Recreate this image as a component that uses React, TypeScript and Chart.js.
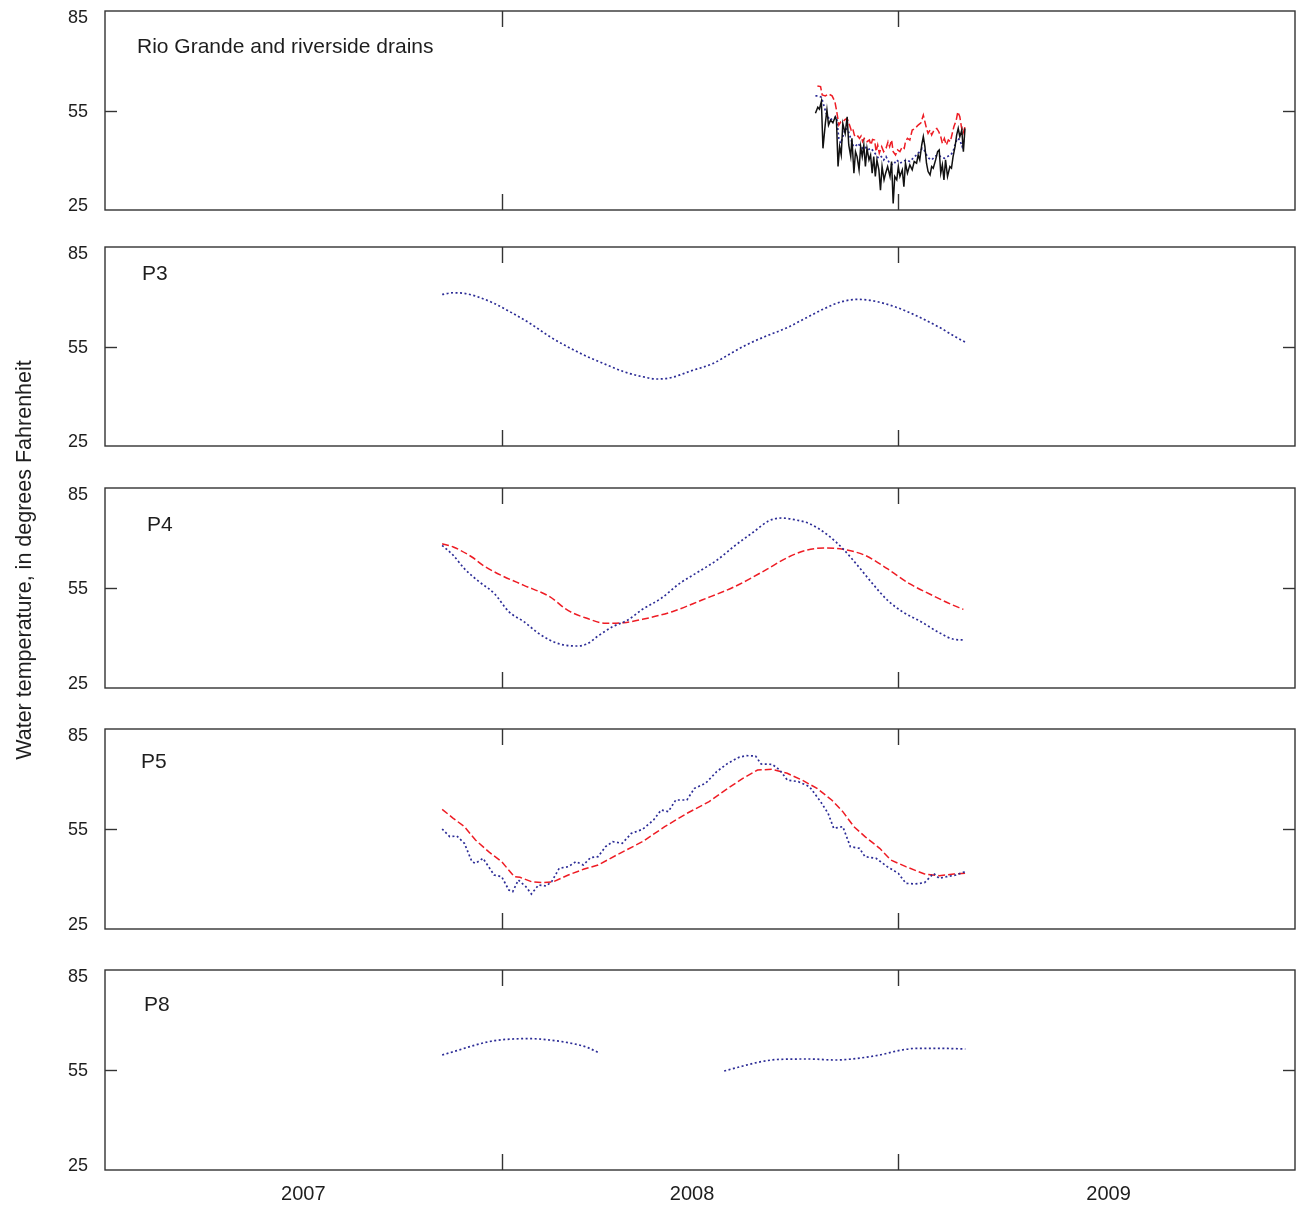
import React, { useEffect, useRef } from "react";
import { Chart, registerables } from "chart.js";

Chart.register(...registerables);

// ---------- axis values ----------
const xMin = 2007;
const xMax = 2010;
const xTickYears = [2008, 2009];
const xLabelYears = ["2007", "2008", "2009"];
const xLabelPos = [2007.5, 2008.48, 2009.53];
const yMin = 25;
const yMax = 85;
const yTickValues = [25, 55, 85];
const yInnerTicks = [55];
// the tick labels sit slightly inside the frame: a label-only axis with a wider range
const yLabelAxisMin = 23.7;
const yLabelAxisMax = 87.2;
const yTitle = "Water temperature, in degrees Fahrenheit";

// ---------- panel labels ----------
const panelLabels = ["Rio Grande and riverside drains", "P3", "P4", "P5", "P8"];

// ---------- data: [decimal year, °F] ----------
const rioBlack = [
  [2008.791, 54.2], [2008.797, 56.0], [2008.801, 55.4], [2008.806, 57.7], [2008.810, 43.6],
  [2008.816, 51.1], [2008.820, 55.2], [2008.824, 50.6], [2008.829, 52.1], [2008.835, 51.3],
  [2008.841, 53.1], [2008.844, 52.1], [2008.848, 38.1], [2008.852, 44.1], [2008.856, 41.6],
  [2008.860, 51.1], [2008.866, 48.1], [2008.871, 53.1], [2008.875, 44.6], [2008.880, 41.1],
  [2008.883, 46.6], [2008.888, 36.1], [2008.892, 42.6], [2008.896, 41.1], [2008.901, 37.1],
  [2008.905, 44.1], [2008.909, 41.1], [2008.913, 44.6], [2008.917, 38.1], [2008.921, 43.6],
  [2008.926, 40.1], [2008.930, 41.6], [2008.934, 36.1], [2008.938, 41.1], [2008.942, 35.1],
  [2008.946, 40.1], [2008.951, 37.1], [2008.955, 31.0], [2008.959, 38.1], [2008.964, 34.1],
  [2008.968, 36.1], [2008.973, 38.1], [2008.979, 35.1], [2008.983, 39.6], [2008.987, 27.0],
  [2008.991, 35.1], [2008.996, 34.1], [2009.000, 38.1], [2009.004, 35.1], [2009.010, 37.1],
  [2009.014, 32.0], [2009.018, 39.1], [2009.023, 36.1], [2009.029, 38.6], [2009.035, 37.1],
  [2009.040, 39.6], [2009.046, 39.1], [2009.050, 41.6], [2009.054, 40.1], [2009.059, 44.6],
  [2009.063, 47.1], [2009.067, 44.1], [2009.071, 39.1], [2009.075, 36.6], [2009.080, 35.6],
  [2009.084, 38.1], [2009.088, 37.6], [2009.094, 40.1], [2009.099, 42.6], [2009.103, 43.1],
  [2009.107, 36.1], [2009.111, 38.6], [2009.115, 34.1], [2009.119, 40.1], [2009.124, 35.1],
  [2009.130, 38.1], [2009.134, 37.6], [2009.138, 41.1], [2009.143, 44.1], [2009.147, 47.6],
  [2009.151, 49.6], [2009.155, 47.1], [2009.160, 49.1], [2009.164, 42.6], [2009.168, 49.6],
];

const rioRed = [
  [2008.796, 62.4], [2008.804, 62.2], [2008.808, 59.7], [2008.816, 59.4], [2008.824, 60.0],
  [2008.833, 59.4], [2008.840, 57.7], [2008.844, 55.2], [2008.850, 50.6], [2008.855, 51.6],
  [2008.860, 51.6], [2008.866, 52.3], [2008.871, 52.6], [2008.877, 50.6], [2008.881, 49.1],
  [2008.885, 49.6], [2008.889, 47.6], [2008.893, 46.9], [2008.898, 47.3], [2008.902, 46.6],
  [2008.906, 47.3], [2008.910, 45.6], [2008.914, 46.6], [2008.921, 45.6], [2008.927, 46.1],
  [2008.931, 44.6], [2008.935, 46.3], [2008.940, 46.1], [2008.944, 42.6], [2008.948, 44.6],
  [2008.952, 42.1], [2008.958, 44.1], [2008.963, 42.6], [2008.969, 43.6], [2008.974, 45.6],
  [2008.978, 44.1], [2008.983, 46.1], [2008.987, 42.6], [2008.993, 41.6], [2008.998, 43.1],
  [2009.004, 42.6], [2009.010, 44.1], [2009.015, 43.6], [2009.018, 45.6], [2009.023, 46.6],
  [2009.029, 46.1], [2009.035, 49.1], [2009.042, 49.6], [2009.050, 50.6], [2009.057, 51.3],
  [2009.063, 53.6], [2009.067, 51.6], [2009.071, 49.6], [2009.075, 48.1], [2009.080, 49.1],
  [2009.084, 47.6], [2009.090, 49.1], [2009.097, 49.6], [2009.102, 48.6], [2009.107, 47.1],
  [2009.111, 45.1], [2009.116, 46.6], [2009.121, 44.6], [2009.126, 46.1], [2009.131, 45.6],
  [2009.135, 47.6], [2009.140, 50.1], [2009.146, 52.1], [2009.150, 54.6], [2009.155, 53.1],
  [2009.159, 50.1], [2009.163, 48.1], [2009.168, 50.1],
];

const rioBlue = [
  [2008.791, 59.4], [2008.799, 59.4], [2008.806, 59.0], [2008.818, 54.2], [2008.827, 52.1],
  [2008.835, 52.6], [2008.844, 53.1], [2008.850, 46.6], [2008.855, 45.1], [2008.860, 47.1],
  [2008.866, 49.6], [2008.873, 49.1], [2008.880, 46.6], [2008.885, 44.6], [2008.891, 44.1],
  [2008.898, 45.1], [2008.905, 44.1], [2008.910, 43.6], [2008.916, 44.1], [2008.923, 43.1],
  [2008.931, 43.6], [2008.938, 42.6], [2008.944, 41.6], [2008.950, 40.6], [2008.957, 41.1],
  [2008.963, 40.1], [2008.969, 41.1], [2008.978, 39.1], [2008.987, 38.6], [2008.996, 40.1],
  [2009.004, 39.1], [2009.012, 39.6], [2009.020, 40.1], [2009.029, 39.6], [2009.037, 40.6],
  [2009.046, 41.6], [2009.054, 42.6], [2009.060, 43.6], [2009.065, 43.1], [2009.071, 41.6],
  [2009.077, 40.6], [2009.084, 40.1], [2009.092, 41.1], [2009.099, 41.6], [2009.107, 41.1],
  [2009.116, 40.6], [2009.124, 41.1], [2009.132, 41.6], [2009.138, 42.6], [2009.144, 45.1],
  [2009.149, 46.6], [2009.155, 46.1], [2009.161, 44.1], [2009.166, 46.6],
];

const p3Blue = [
  [2007.850, 70.7], [2007.878, 71.2], [2007.906, 71.0], [2007.934, 70.2], [2007.981, 68.0],
  [2008.028, 65.0], [2008.075, 61.7], [2008.121, 58.0], [2008.168, 54.8], [2008.215, 52.0],
  [2008.262, 49.6], [2008.308, 47.4], [2008.355, 45.9], [2008.392, 45.2], [2008.430, 45.7],
  [2008.476, 47.6], [2008.533, 49.9], [2008.579, 53.0], [2008.617, 55.5], [2008.664, 58.0],
  [2008.720, 60.7], [2008.767, 63.6], [2008.813, 66.4], [2008.860, 68.6], [2008.897, 69.2],
  [2008.935, 68.8], [2008.991, 67.0], [2009.047, 64.2], [2009.103, 60.8], [2009.140, 58.2],
  [2009.173, 56.0],
];

const p4Blue = [
  [2007.850, 67.8], [2007.878, 64.8], [2007.906, 60.8], [2007.944, 56.8], [2007.981, 53.4],
  [2008.018, 47.9], [2008.056, 44.9], [2008.093, 41.4], [2008.121, 39.4], [2008.149, 38.1],
  [2008.187, 37.6], [2008.215, 38.2], [2008.243, 40.6], [2008.280, 43.4], [2008.318, 45.4],
  [2008.355, 48.6], [2008.402, 51.9], [2008.448, 56.3], [2008.495, 59.8], [2008.542, 63.3],
  [2008.589, 67.8], [2008.635, 71.8], [2008.673, 75.1], [2008.705, 76.0], [2008.738, 75.5],
  [2008.776, 74.3], [2008.823, 70.8], [2008.860, 66.8], [2008.897, 61.8], [2008.935, 56.3],
  [2008.972, 51.4], [2009.010, 47.9], [2009.057, 44.9], [2009.103, 41.6], [2009.140, 39.6],
  [2009.164, 39.4],
];

const p4Red = [
  [2007.850, 68.3], [2007.878, 67.3], [2007.925, 64.3], [2007.953, 61.8], [2007.999, 58.8],
  [2008.056, 55.8], [2008.121, 52.4], [2008.168, 48.2], [2008.215, 45.9], [2008.262, 44.4],
  [2008.308, 44.6], [2008.355, 45.6], [2008.430, 47.9], [2008.505, 51.4], [2008.589, 55.5],
  [2008.664, 60.3], [2008.720, 64.1], [2008.767, 66.3], [2008.813, 67.0], [2008.860, 66.6],
  [2008.916, 64.8], [2008.972, 60.8], [2009.028, 56.3], [2009.084, 52.9], [2009.131, 50.2],
  [2009.164, 48.6],
];

const p5Blue = [
  [2007.850, 55.0], [2007.869, 52.7], [2007.887, 52.9], [2007.906, 50.7], [2007.925, 45.2],
  [2007.934, 44.7], [2007.953, 46.2], [2007.981, 41.2], [2008.000, 40.7], [2008.018, 36.7],
  [2008.028, 36.2], [2008.042, 39.7], [2008.061, 37.7], [2008.075, 35.5], [2008.093, 38.2],
  [2008.112, 37.9], [2008.126, 39.2], [2008.145, 43.2], [2008.168, 43.7], [2008.187, 45.2],
  [2008.206, 44.2], [2008.224, 46.4], [2008.243, 46.7], [2008.262, 49.7], [2008.280, 51.2],
  [2008.304, 50.7], [2008.327, 53.7], [2008.355, 54.9], [2008.383, 57.7], [2008.402, 60.7],
  [2008.420, 60.2], [2008.439, 63.7], [2008.467, 63.7], [2008.486, 67.2], [2008.514, 68.7],
  [2008.542, 72.2], [2008.570, 74.7], [2008.598, 76.5], [2008.617, 77.0], [2008.640, 76.9],
  [2008.654, 74.5], [2008.682, 74.4], [2008.701, 72.7], [2008.720, 69.7], [2008.748, 69.2],
  [2008.776, 67.7], [2008.804, 63.2], [2008.823, 59.7], [2008.837, 55.2], [2008.860, 55.7],
  [2008.879, 49.7], [2008.902, 49.2], [2008.916, 46.7], [2008.944, 46.2], [2008.972, 43.7],
  [2009.000, 41.7], [2009.019, 38.7], [2009.042, 38.5], [2009.066, 38.9], [2009.089, 41.7],
  [2009.103, 40.2], [2009.122, 40.7], [2009.145, 41.2], [2009.169, 42.2],
];

const p5Red = [
  [2007.850, 60.9], [2007.878, 58.2], [2007.906, 55.7], [2007.934, 51.7], [2007.967, 48.2],
  [2008.000, 45.2], [2008.032, 40.7], [2008.046, 40.5], [2008.075, 39.2], [2008.103, 38.9],
  [2008.131, 39.2], [2008.168, 41.2], [2008.206, 42.9], [2008.243, 44.2], [2008.290, 47.2],
  [2008.355, 51.2], [2008.411, 55.7], [2008.467, 59.7], [2008.523, 63.2], [2008.570, 67.2],
  [2008.608, 70.2], [2008.645, 72.7], [2008.682, 72.9], [2008.720, 71.7], [2008.757, 69.7],
  [2008.795, 67.2], [2008.832, 63.7], [2008.860, 60.2], [2008.888, 55.7], [2008.916, 52.7],
  [2008.953, 49.2], [2008.981, 45.7], [2009.019, 43.7], [2009.066, 41.5], [2009.103, 41.0],
  [2009.140, 41.5], [2009.169, 41.7],
];

const p8BlueA = [
  [2007.850, 59.5], [2007.887, 60.8], [2007.934, 62.5], [2007.981, 63.8], [2008.028, 64.3],
  [2008.075, 64.4], [2008.121, 64.0], [2008.168, 63.2], [2008.215, 61.8], [2008.248, 60.0],
];

const p8BlueB = [
  [2008.561, 54.7], [2008.608, 56.2], [2008.654, 57.5], [2008.701, 58.2], [2008.776, 58.3],
  [2008.841, 58.0], [2008.897, 58.5], [2008.953, 59.5], [2009.000, 60.8], [2009.047, 61.5],
  [2009.103, 61.5], [2009.169, 61.3],
];

// ---------- styles ----------
const FONT = "'Liberation Sans', Arial, sans-serif";
const TEXT = "#1e1e1e";
const FRAME = "#333";
const BLACK = "#111111";
const RED = "#ee1c24";
const BLUE = "#2c2c96";

type Pair = number[];
const toPts = (a: Pair[]) => a.map(([x, y]) => ({ x, y }));

const solid = (d: Pair[]) => ({
  data: toPts(d), borderColor: BLACK, borderWidth: 1.5, pointRadius: 0, tension: 0,
});
const dashed = (d: Pair[], smooth: boolean) => ({
  data: toPts(d), borderColor: RED, borderWidth: 1.5, borderDash: [7, 3], pointRadius: 0,
  tension: 0, cubicInterpolationMode: smooth ? "monotone" : "default",
});
const dotted = (d: Pair[], smooth: boolean) => ({
  data: toPts(d), borderColor: BLUE, borderWidth: 1.7, borderDash: [2, 2.5], pointRadius: 0,
  tension: 0, cubicInterpolationMode: smooth ? "monotone" : "default",
});

const panels = [
  { top: 11, bottom: 210, dx: 32, dy: 36, datasets: () => [solid(rioBlack), dotted(rioBlue, false), dashed(rioRed, false)] },
  { top: 247, bottom: 446, dx: 37, dy: 27, datasets: () => [dotted(p3Blue, true)] },
  { top: 488, bottom: 688, dx: 42, dy: 37, datasets: () => [dotted(p4Blue, true), dashed(p4Red, true)] },
  { top: 729, bottom: 929, dx: 36, dy: 33, datasets: () => [dotted(p5Blue, false), dashed(p5Red, false)] },
  { top: 970, bottom: 1170, dx: 39, dy: 35, datasets: () => [dotted(p8BlueA, true), dotted(p8BlueB, true)] },
];

const PAD = 20;
const X_AXIS_H = 45;

const framePlugin = {
  id: "frame",
  afterDatasetsDraw(chart: any, _args: any, opts: any) {
    const { ctx, chartArea: a, scales } = chart;
    ctx.save();
    ctx.strokeStyle = FRAME;
    ctx.lineWidth = 1.4;
    ctx.setLineDash([]);
    ctx.strokeRect(a.left, a.top, a.right - a.left, a.bottom - a.top);
    const seg = (x1: number, y1: number, x2: number, y2: number) => {
      ctx.beginPath(); ctx.moveTo(x1, y1); ctx.lineTo(x2, y2); ctx.stroke();
    };
    for (const v of xTickYears) {
      const px = Math.round(scales.x.getPixelForValue(v)) + 0.5;
      seg(px, a.top, px, a.top + 16);
      seg(px, a.bottom, px, a.bottom - 16);
    }
    for (const v of yInnerTicks) {
      const py = Math.round(scales.y.getPixelForValue(v)) + 0.5;
      seg(a.left, py, a.left + 12, py);
      seg(a.right, py, a.right - 12, py);
    }
    ctx.fillStyle = TEXT;
    ctx.font = `21px ${FONT}`;
    ctx.textBaseline = "middle";
    ctx.textAlign = "left";
    ctx.fillText(opts.label, a.left + opts.dx, a.top + opts.dy);
    ctx.restore();
  },
};

const zeroPad = (s: any) => {
  s.paddingLeft = 0; s.paddingRight = 0; s.paddingTop = 0; s.paddingBottom = 0;
};

function Panel({ idx }: { idx: number }) {
  const ref = useRef<HTMLCanvasElement | null>(null);
  const p = panels[idx];
  const isLast = idx === panels.length - 1;
  const h = p.bottom - p.top;
  const canvasH = PAD + h + (isLast ? X_AXIS_H : PAD);

  useEffect(() => {
    if (!ref.current) return;
    const chart = new Chart(ref.current, {
      type: "line",
      data: { datasets: p.datasets() as any },
      plugins: [framePlugin as any],
      options: {
        animation: false,
        responsive: false,
        maintainAspectRatio: false,
        layout: { padding: { top: PAD, bottom: isLast ? 0 : PAD, left: 0, right: 1 } },
        plugins: {
          legend: { display: false },
          tooltip: { enabled: false },
          frame: { label: panelLabels[idx], dx: p.dx, dy: p.dy },
        } as any,
        scales: {
          x: {
            type: "linear",
            min: xMin,
            max: xMax,
            display: isLast,
            grid: { display: false, drawTicks: false },
            border: { display: false },
            afterBuildTicks: (s: any) => { s.ticks = xLabelPos.map((v) => ({ value: v })); },
            afterFit: (s: any) => { s.height = isLast ? X_AXIS_H : 0; zeroPad(s); },
            ticks: {
              autoSkip: false,
              maxRotation: 0,
              padding: 12,
              color: TEXT,
              font: { family: FONT, size: 20 },
              callback: (v: any) => {
                const i = xLabelPos.indexOf(Number(v));
                return i >= 0 ? xLabelYears[i] : "";
              },
            },
          },
          y: {
            type: "linear",
            position: "left",
            min: yMin,
            max: yMax,
            display: false,
            afterFit: (s: any) => { s.width = 0; zeroPad(s); },
          },
          yLab: {
            type: "linear",
            position: "left",
            min: yLabelAxisMin,
            max: yLabelAxisMax,
            grid: { display: false, drawTicks: false },
            border: { display: false },
            afterBuildTicks: (s: any) => { s.ticks = yTickValues.map((v) => ({ value: v })); },
            afterFit: (s: any) => { s.width = 105; zeroPad(s); },
            ticks: {
              padding: 17,
              color: TEXT,
              font: { family: FONT, size: 18 },
              callback: (v: any) => String(v),
            },
          },
        },
      },
    });
    return () => chart.destroy();
  }, []);

  return (
    <canvas
      ref={ref}
      width={1296}
      height={canvasH}
      style={{ position: "absolute", left: 0, top: p.top - PAD, width: 1296, height: canvasH, display: "block" }}
    />
  );
}

export default function App() {
  return (
    <div style={{ position: "absolute", left: 0, top: 0, width: 1296, height: 1208, background: "#fff" }}>
      {panels.map((_, i) => (
        <Panel key={i} idx={i} />
      ))}
      <div
        style={{
          position: "absolute",
          left: 24 - 260,
          top: 560 - 16,
          width: 520,
          height: 32,
          lineHeight: "32px",
          textAlign: "center",
          transform: "rotate(-90deg)",
          fontFamily: FONT,
          fontSize: 21.5,
          color: TEXT,
          whiteSpace: "nowrap",
        }}
      >
        {yTitle}
      </div>
    </div>
  );
}
